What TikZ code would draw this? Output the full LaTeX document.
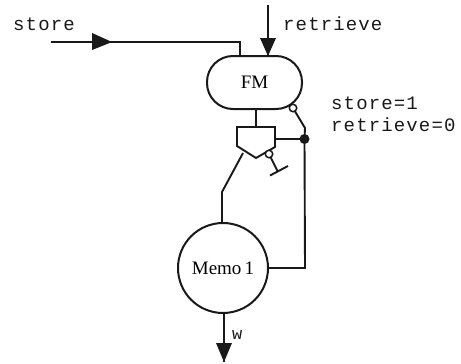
\documentclass[tikz,border=0pt]{standalone}
\usepackage{fontspec}
\setmainfont{Liberation Serif}
\newfontfamily\typew[LetterSpace=6]{Liberation Mono}
\tikzset{
  wire/.style={line width=1.9pt,black!90},
  tw/.style={inner sep=0pt,font=\fontsize{19}{19}\typew,anchor=west,text=black!90},
  inv/.style={circle,draw=black!90,line width=1.5pt,fill=white,minimum size=7.5pt,inner sep=0pt},
  tip/.style={fill=black!90,draw=none}
}
\begin{document}
\begin{tikzpicture}[x=1pt,y=-1pt]
\useasboundingbox (0,0) rectangle (461,364);
\node[draw=black!90,line width=2pt,rounded corners=26pt,minimum width=95pt,minimum height=53pt,inner sep=0pt,font=\fontsize{19}{19}\selectfont] (fm) at (254.5,82.5) {FM};
\node[circle,draw=black!90,line width=2pt,minimum size=90pt,inner sep=0pt,font=\fontsize{19}{19}\selectfont] (memo) at (223,268) {Memo\,1};
\node[tw] (store) at (13,24) {store};
\node[tw] (retr) at (283,24) {retrieve};
\node[tw] (s1) at (331,103) {store=1};
\node[tw] (r0) at (331,125) {retrieve=0};
\node[tw,font=\fontsize{17}{17}\typew] (w) at (232,335) {w};
\coordinate (sIn) at (51,42);
\coordinate (sCor) at (240,42);
\coordinate (sEnd) at (240,56);
\coordinate (rIn) at (268,5);
\coordinate (rEnd) at (268,56);
\coordinate (wEnd) at (224,362);
\coordinate (memoOut) at (224,313);
\draw[wire] (sIn) -- (sCor) -- (sEnd);
\fill[tip] (112,42) -- (92,33) -- (92,50) -- cycle;
\draw[wire] (rIn) -- (rEnd);
\fill[tip] (rEnd) -- (260,38) -- (276,38) -- cycle;
\draw[wire] (memoOut) -- (wEnd);
\fill[tip] (wEnd) -- (216,343) -- (232,343) -- cycle;
% gate
\coordinate (gTop) at (256,127);
\draw[wire,line join=miter,fill=white] (237,127) -- (275,127) -- (275,147) -- (256,158) -- (237,146) -- cycle;
\draw[wire] (256,109) -- (gTop);
\coordinate (dotC) at (304.5,139);
\draw[wire] (275,139) -- (dotC);
\node[circle,fill=black!90,minimum size=10pt,inner sep=0pt] (dot) at (dotC) {};
\draw[wire] (293,108) -- (305,128) -- (dot.center) -- (305,268) -- (memo.east);
\node[inv] (c1) at (293,108) {};
% enable
\coordinate (bar) at (278,172);
\draw[wire] (269,154) -- (bar);
\draw[wire] (270,175.5) -- (288,166);
\node[inv] (c2) at (269,154) {};
% output
\draw[wire] (243,153) -- (222,192) -- (222,223);
\end{tikzpicture}
\end{document}
